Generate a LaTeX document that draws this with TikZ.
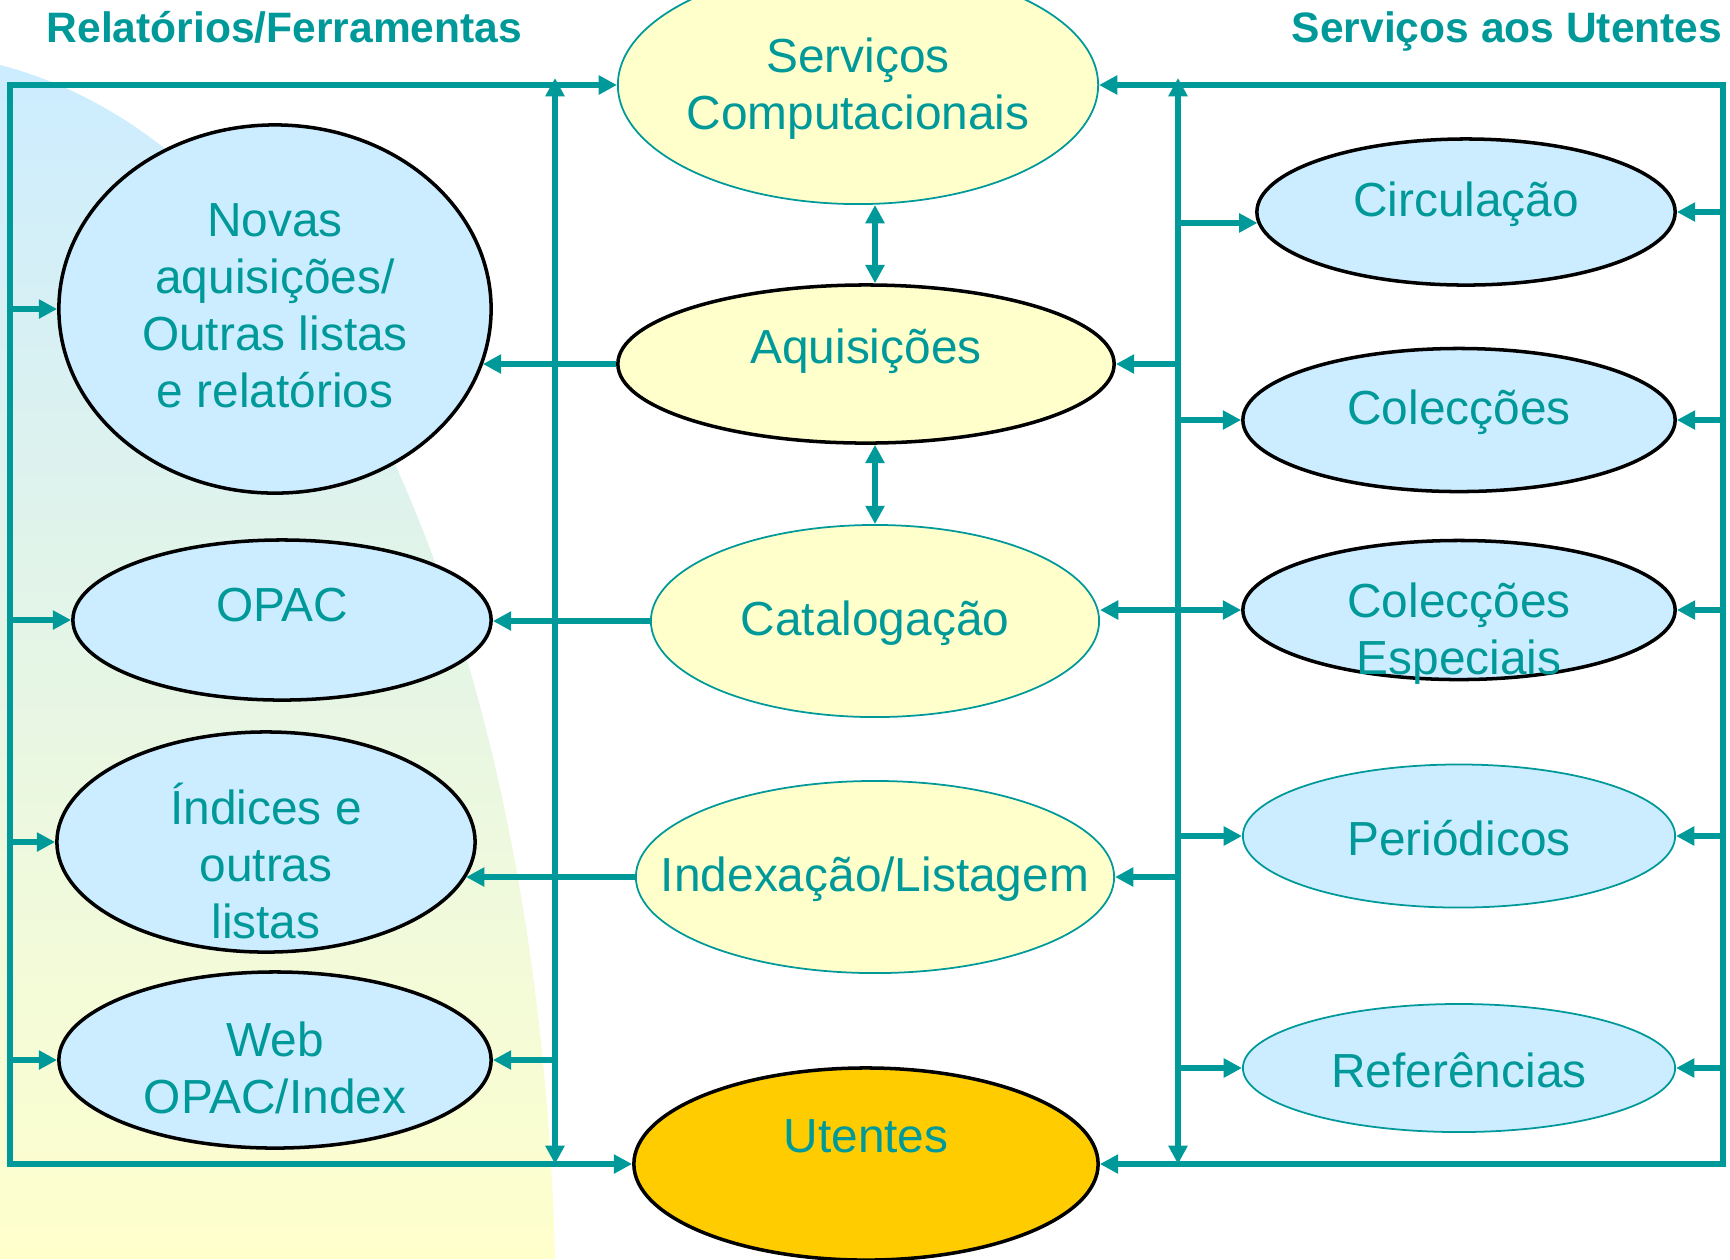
\documentclass[tikz,border=0pt]{standalone}
\usepackage{fontspec}
\setmainfont{Liberation Sans}
\usepackage{tikz}
\usetikzlibrary{arrows.meta, shapes.geometric}
\definecolor{myteal}{RGB}{0, 153, 153}
\definecolor{myblue}{RGB}{204, 236, 255}
\definecolor{myyellow}{RGB}{255, 255, 204}
\definecolor{myorange}{RGB}{255, 204, 0}
\tikzset{>={Triangle[length = 5.2pt, width = 5.2pt]}}
\tikzset{
  ell/.style = {ellipse, inner sep = 0pt},
  blueell/.style = {ell, fill = myblue, draw = black, line width = 1pt},
  blueellt/.style = {ell, fill = myblue, draw = myteal, line width = 0.5pt},
  yellell/.style = {ell, fill = myyellow, draw = black, line width = 1pt},
  yellellt/.style = {ell, fill = myyellow, draw = myteal, line width = 0.5pt},
  txt/.style = {text = myteal, align = center, inner sep = 0pt, font = \fontsize{13.6}{16.2}\selectfont},
  heading/.style = {text = myteal, inner sep = 0pt, font = \fontsize{12.1}{14}\selectfont\bfseries},
  link/.style = {myteal, line width = 1.7pt}
}

\begin{document}
\begin{tikzpicture}[x = 0.01cm, y = -0.01cm]
\clip (0,0) rectangle (1730,1259);
\shade[top color = myblue, bottom color = myyellow] (0,65) .. controls (330,150) and (540,650) .. (555,1259) -- (0,1259) -- cycle;

\node[heading, anchor = base west] (reltitle) at (46,42) {Relatórios/Ferramentas};
\node[heading, anchor = base east] (servtitle) at (1723,42) {Serviços aos Utentes};

\node[yellellt, minimum width = 4.80cm, minimum height = 2.38cm] (servcomp) at (858,85) {};
\node[yellell,  minimum width = 4.96cm, minimum height = 1.58cm] (aquis) at (866,364) {};
\node[yellellt, minimum width = 4.48cm, minimum height = 1.92cm] (catal) at (875,621) {};
\node[yellellt, minimum width = 4.78cm, minimum height = 1.92cm] (index) at (875,877) {};
\node[ell, fill = myorange, draw = black, line width = 1pt, minimum width = 4.64cm, minimum height = 1.92cm] (utentes) at (866,1164) {};

\node[blueell, minimum width = 4.32cm, minimum height = 3.68cm] (novas) at (275,309) {};
\node[blueell, minimum width = 4.18cm, minimum height = 1.60cm] (opac) at (282,620) {};
\node[blueell, minimum width = 4.18cm, minimum height = 2.20cm] (indices) at (266,842) {};
\node[blueell, minimum width = 4.32cm, minimum height = 1.76cm] (web) at (275,1060) {};

\node[blueell,  minimum width = 4.18cm, minimum height = 1.46cm] (circ) at (1466,212) {};
\node[blueell,  minimum width = 4.32cm, minimum height = 1.43cm] (colec) at (1459,420) {};
\node[blueell,  minimum width = 4.32cm, minimum height = 1.39cm] (colesp) at (1459,610) {};
\node[blueellt, minimum width = 4.32cm, minimum height = 1.43cm] (period) at (1459,836) {};
\node[blueellt, minimum width = 4.32cm, minimum height = 1.28cm] (refer) at (1459,1068) {};

\node[txt] (servcomp-t) at (858,89) {Serviços\\Computacionais};
\node[txt] (aquis-t) at (866,351) {Aquisições};
\node[txt] (catal-t) at (875,623) {Catalogação};
\node[txt] (index-t) at (875,879) {Indexação/Listagem};
\node[txt] (utentes-t) at (866,1136) {Utentes};
\node[txt] (novas-t) at (275,306) {Novas\\aquisições/\\Outras listas\\e relatórios};
\node[txt] (opac-t) at (282,605) {OPAC};
\node[txt] (indices-t) at (266,861) {Índices e\\outras\\listas};
\node[txt] (web-t) at (275,1068) {Web\\OPAC/Index};
\node[txt] (circ-t) at (1466,204) {Circulação};
\node[txt] (colec-t) at (1459,412) {Colecções};
\node[txt] (colesp-t) at (1459,634) {Colecções\\Especiais};
\node[txt] (period-t) at (1459,838) {Periódicos};
\node[txt] (refer-t) at (1459,1070) {Referências};

\coordinate (ltop) at (10,85);
\coordinate (lbot) at (10,1164);
\coordinate (rtop) at (1723,85);
\coordinate (rbot) at (1723,1164);
\coordinate (lbtop) at (555,78);
\coordinate (lbbot) at (555,1164);
\coordinate (rbtop) at (1178,78);
\coordinate (rbbot) at (1178,1164);

\draw[link, <->] (servcomp.west) -- (ltop) -- (lbot) -- (utentes.west);
\draw[link, <->] (servcomp.east) -- (rtop) -- (rbot) -- (utentes.east);
\draw[link, <->] (lbtop) -- (lbbot);
\draw[link, <->] (rbtop) -- (rbbot);

\foreach \n in {novas, opac, indices, web}
  \draw[link, ->] (\n.west -| ltop) -- (\n.west);
\foreach \n in {circ, colec, colesp, period, refer}
  \draw[link, ->] (\n.east -| rtop) -- (\n.east);
\foreach \n in {colec, period, refer}
  \draw[link, ->] (\n.west -| rbtop) -- (\n.west);
\foreach \n in {aquis, index}
  \draw[link, ->] (\n.east -| rbtop) -- (\n.east);

\draw[link, ->] (circ.183 -| rbtop) -- (circ.183);
\draw[link, ->] (aquis.west) -- (aquis.west -| novas.-15);
\draw[link, ->] (catal.west) -- (catal.west -| opac.east);
\draw[link, ->] (index.west) -- (index.west -| indices.-10);
\draw[link, ->] (web.east -| lbtop) -- (web.east);
\draw[link, <->] (colesp.west -| catal.east) -- (colesp.west);

\draw[link, <->] (servcomp.south -| catal.north) -- (aquis.north -| catal.north);
\draw[link, <->] (aquis.south -| catal.north) -- (catal.north);
\end{tikzpicture}
\end{document}
